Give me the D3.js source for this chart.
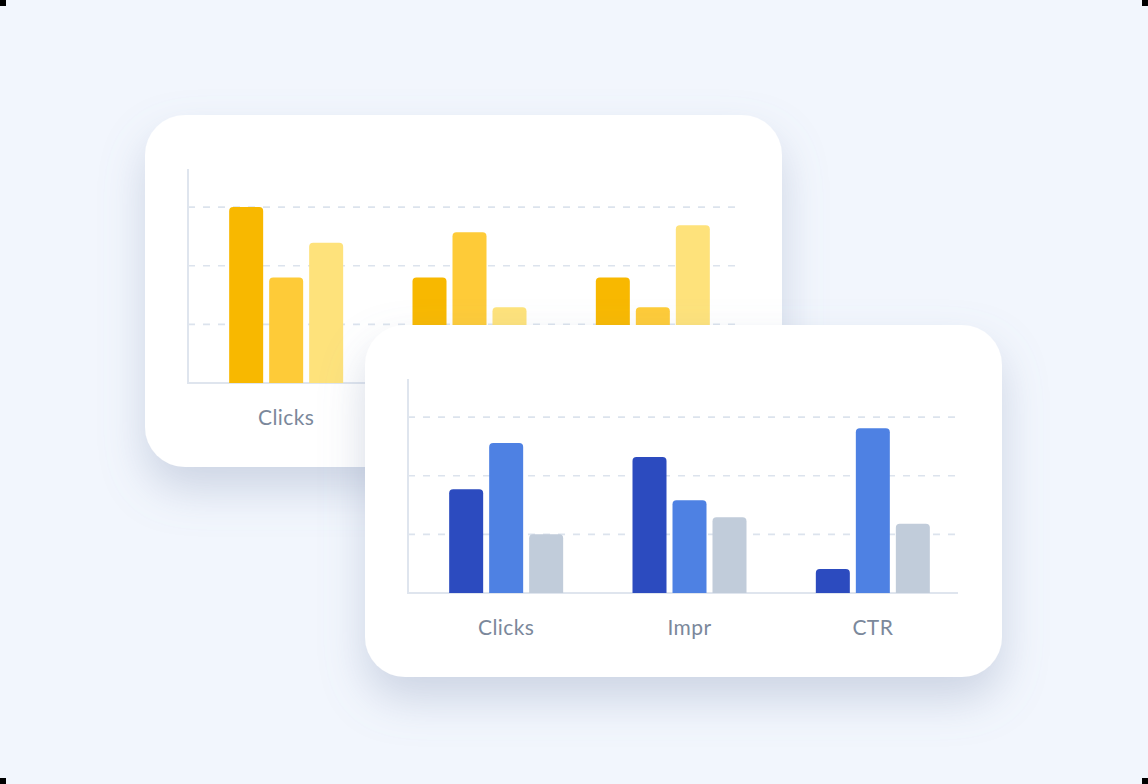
<!DOCTYPE html>
<html><head><meta charset="utf-8">
<script src="https://cdn.jsdelivr.net/npm/d3@7"></script>
<style>html,body{margin:0;padding:0;background:#f2f6fd;}svg{display:block;}</style>
</head><body>
<script>
const categories = ["Clicks", "Impr", "CTR"];
const backSeries1 = [3.0, 1.8, 1.8];
const backSeries2 = [1.8, 2.57, 1.29];
const backSeries3 = [2.39, 1.29, 2.69];
const frontSeries1 = [1.77, 2.32, 0.41];
const frontSeries2 = [2.56, 1.58, 2.81];
const frontSeries3 = [1.0, 1.29, 1.18];
const gridTicks = [1, 2, 3];
const backColors = ["#f8b800", "#fecb38", "#fee27b"];
const frontColors = ["#2c4bbf", "#4e81e3", "#c1ccda"];

const W = 1148, H = 784;
const svg = d3.select("body").append("svg").attr("width", W).attr("height", H);
svg.append("rect").attr("width", W).attr("height", H).attr("fill", "#f2f6fd");

const defs = svg.append("defs");
const f = defs.append("filter").attr("id", "shadow").attr("x", "-30%").attr("y", "-30%").attr("width", "160%").attr("height", "170%");
f.append("feDropShadow").attr("dx", 0).attr("dy", 22).attr("stdDeviation", 22)
  .attr("flood-color", "#7d8eae").attr("flood-opacity", 0.32);

const cardW = 637, cardH = 352;
const y = d3.scaleLinear().domain([0, 3.65]).range([268, 54]);
const x0 = d3.scaleBand().domain(categories).range([49.5, 599.5]).padding(0);
const x1 = d3.scaleBand().domain([0, 1, 2]).range([0, 114]).paddingInner(0.15).paddingOuter(0);

function topRounded(x, yTop, w, h, r) {
  r = Math.min(r, h, w / 2);
  return `M${x},${yTop + h}V${yTop + r}Q${x},${yTop} ${x + r},${yTop}H${x + w - r}Q${x + w},${yTop} ${x + w},${yTop + r}V${yTop + h}Z`;
}

function drawCard(ox, oy, series, colors) {
  const g = svg.append("g").attr("transform", `translate(${ox},${oy})`);
  g.append("rect").attr("width", cardW).attr("height", cardH).attr("rx", 40)
    .attr("fill", "#ffffff").attr("filter", "url(#shadow)");
  // grid
  g.selectAll("line.grid").data(gridTicks).join("line").attr("class", "grid")
    .attr("x1", 43).attr("x2", 593).attr("y1", d => y(d)).attr("y2", d => y(d))
    .attr("stroke", "#dce3ed").attr("stroke-width", 1.6).attr("stroke-dasharray", "7,8");
  // axes
  g.append("line").attr("x1", 43).attr("x2", 43).attr("y1", 54).attr("y2", y(0))
    .attr("stroke", "#dfe5ee").attr("stroke-width", 2);
  g.append("line").attr("x1", 42).attr("x2", 593).attr("y1", y(0)).attr("y2", y(0))
    .attr("stroke", "#dfe5ee").attr("stroke-width", 2);
  // bars
  categories.forEach((c, ci) => {
    const gx = x0(c) + x0.bandwidth() / 2 - 57;
    series.forEach((s, si) => {
      const v = s[ci];
      g.append("path")
        .attr("d", topRounded(gx + x1(si), y(v), x1.bandwidth(), y(0) - y(v), 4))
        .attr("fill", colors[si]);
    });
    g.append("text").attr("x", x0(c) + x0.bandwidth() / 2).attr("y", 310)
      .attr("text-anchor", "middle").attr("font-family", "Lato, 'Open Sans', sans-serif")
      .attr("font-size", 21).attr("letter-spacing", 0.4).attr("fill", "#7b889b").text(c);
  });
}

drawCard(145, 115, [backSeries1, backSeries2, backSeries3], backColors);
drawCard(365, 325, [frontSeries1, frontSeries2, frontSeries3], frontColors);

// corner marks
[[0, 0], [W - 6, 0], [0, H - 6], [W - 6, H - 6]].forEach(([cx, cy]) =>
  svg.append("rect").attr("x", cx).attr("y", cy).attr("width", 6).attr("height", 6).attr("fill", "#000"));
</script>
</body></html>
